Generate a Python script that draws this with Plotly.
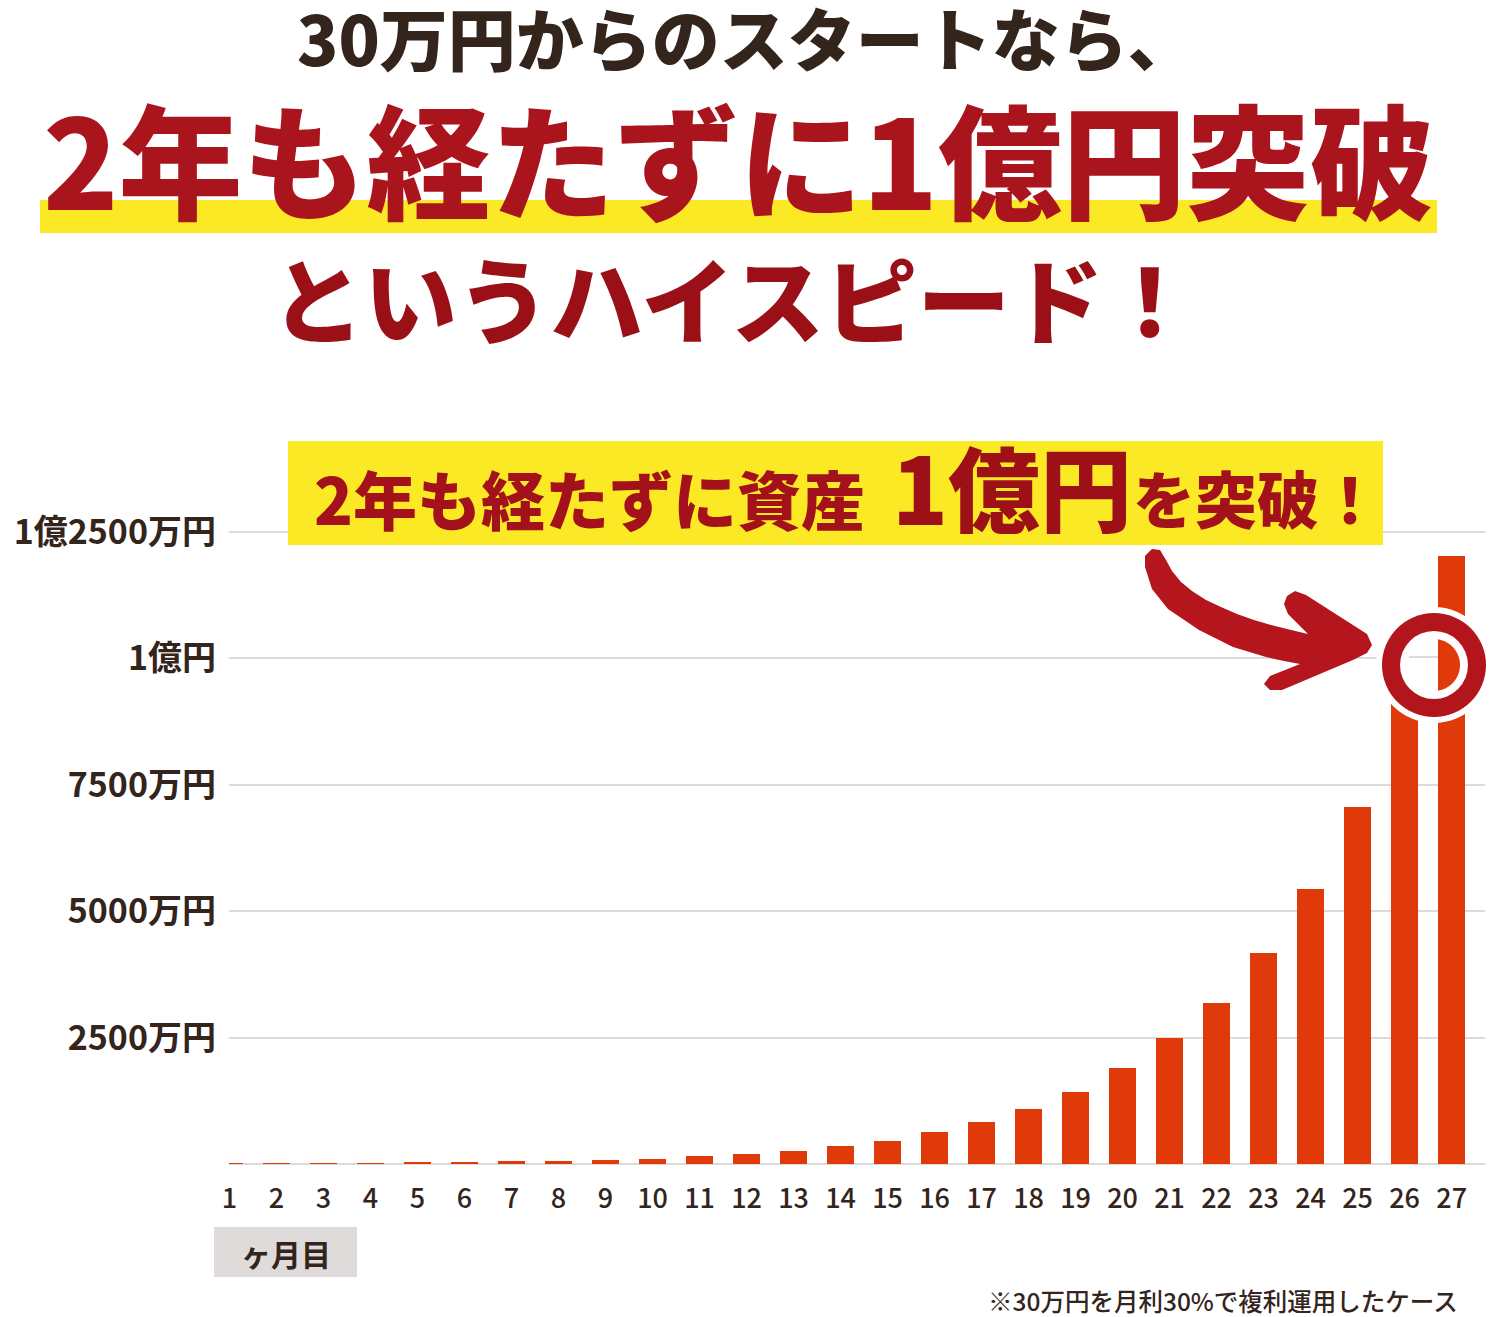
import plotly.graph_objects as go
import numpy as np

# ---- data (values in 万円) ----
months = list(range(1, 28))
month_labels = [str(m) for m in months]
assets_man = [8, 10, 13, 17, 40, 42, 50, 62, 79, 98, 152, 203, 256, 354, 453,
              630, 822, 1096, 1418, 1893, 2500, 3192, 4182, 5443, 7053, 9150, 12025]
y_tick_vals = [2500, 5000, 7500, 10000, 12500]
y_tick_text = ["2500万円", "5000万円", "7500万円", "1億円", "1億2500万円"]

title1 = "30万円からのスタートなら、"
title2 = "2年も経たずに1億円突破"
title3 = "というハイスピード！"
callout_a = "2年も経たずに資産"
callout_b = "1億円"
callout_c = "を突破！"
unit_label = "ヶ月目"
footnote = "※30万円を月利30%で複利運用したケース"

# ---- layout geometry ----
W, H = 1497, 1317
L, R, T, B = 229, 12, 500, 153
PW = W - L - R
PH = H - T - B
FONT = "Noto Sans CJK JP, Noto Sans, sans-serif"
DARK = "#33241c"
RED = "#a3121a"
BAR = "#e0390a"
YEL = "#fbe925"
GRID = "#dedad7"


def fx(x):
    return (x - L) / PW


def fy(y):
    return (H - B - y) / PH


def path_from(points):
    return "M " + " L ".join(f"{fx(x):.5f},{fy(y):.5f}" for x, y in points) + " Z"


fig = go.Figure()
fig.add_trace(go.Bar(
    x=months, y=assets_man, width=0.574,
    marker=dict(color=BAR, line=dict(width=0)),
    hoverinfo="skip",
))

shapes = []
annotations = []

# highlight band under title line 2
shapes.append(dict(type="rect", xref="paper", yref="paper", layer="above",
                   x0=fx(40), x1=fx(1437), y0=fy(233), y1=fy(200),
                   fillcolor=YEL, line=dict(width=0)))
# callout box
shapes.append(dict(type="rect", xref="paper", yref="paper", layer="above",
                   x0=fx(288), x1=fx(1383), y0=fy(545), y1=fy(441),
                   fillcolor=YEL, line=dict(width=0)))
# unit label box
shapes.append(dict(type="rect", xref="paper", yref="paper", layer="above",
                   x0=fx(214), x1=fx(357), y0=fy(1277), y1=fy(1227),
                   fillcolor="#dfdbda", line=dict(width=0)))

# curved arrow
arrow_pts = [(1152, 549), (1160, 550), (1166, 560), (1172, 571), (1181, 582), (1192, 591),
             (1206, 600), (1221, 607), (1237, 614), (1254, 620), (1271, 625), (1287, 629),
             (1308, 634), (1288, 614), (1284, 604), (1287, 596), (1295, 591), (1306, 595),
             (1367, 634), (1372, 645), (1367, 653), (1353, 660), (1282, 690), (1270, 690),
             (1264, 684), (1270, 676), (1300, 664), (1284, 661), (1266, 657), (1233, 647),
             (1199, 630), (1168, 609), (1152, 589), (1145, 567), (1145, 556)]
shapes.append(dict(type="path", xref="paper", yref="paper", layer="above",
                   path=path_from(arrow_pts), fillcolor="#b5161d", line=dict(width=0)))

# ring marker
cx, cy = 1434, 665


def circ(r, color):
    return dict(type="circle", xref="paper", yref="paper", layer="above",
                x0=fx(cx - r), x1=fx(cx + r), y0=fy(cy + r), y1=fy(cy - r),
                fillcolor=color, line=dict(width=0))


shapes.append(circ(58, "white"))
shapes.append(circ(52, "#b3151c"))
shapes.append(circ(34, "white"))
shapes.append(dict(type="line", xref="paper", yref="paper", layer="above",
                   x0=fx(1409), x1=fx(1438), y0=fy(657), y1=fy(657),
                   line=dict(color=GRID, width=2)))
r_in = 26
xl = 1438
th0 = np.arccos((xl - cx) / r_in)
ths = np.linspace(th0, -th0, 40)
d_pts = [(cx + r_in * np.cos(t), cy - r_in * np.sin(t)) for t in ths]
shapes.append(dict(type="path", xref="paper", yref="paper", layer="above",
                   path=path_from(d_pts), fillcolor=BAR, line=dict(width=0)))


def ann(text, x, y, size, color, xanchor="center", weight="bold"):
    annotations.append(dict(text=text, xref="paper", yref="paper",
                            x=fx(x), y=fy(y), xanchor=xanchor, yanchor="middle",
                            showarrow=False,
                            font=dict(family=FONT, size=size, color=color, weight=weight)))


ann(title1, 746, 36, 68, DARK, weight=900)
ann(title2, 738, 156, 124, "#aa141c", weight=900)
ann(title3, 733, 296, 93, "#9b1016", weight=900)

ann(callout_a, 312, 497, 64, RED, xanchor="left", weight=900)
ann(callout_b, 890, 485, 92, "#9d1017", xanchor="left", weight=900)
ann(callout_c, 1131, 497, 62, RED, xanchor="left", weight=900)

ann(unit_label, 286, 1253, 30, DARK)
ann(footnote, 1460, 1300, 24.5, DARK, xanchor="right", weight=500)

fig.update_layout(
    width=W, height=H,
    margin=dict(l=L, r=R, t=T, b=B, pad=0),
    paper_bgcolor="white", plot_bgcolor="white",
    showlegend=False,
    bargap=0,
    shapes=shapes,
    annotations=annotations,
    xaxis=dict(range=[0.99, 27.71], tickmode="array", tickvals=months, ticktext=month_labels,
               showgrid=False, zeroline=False, showline=False, ticks="",
               ticklabelstandoff=16,
               tickfont=dict(family=FONT, size=27, color=DARK, weight=500)),
    yaxis=dict(range=[0, 13133], tickmode="array", tickvals=y_tick_vals, ticktext=y_tick_text,
               showgrid=True, gridcolor=GRID, gridwidth=2,
               zeroline=True, zerolinecolor=GRID, zerolinewidth=2,
               showline=False, ticks="", ticklabelstandoff=12,
               tickfont=dict(family=FONT, size=34, color=DARK, weight="bold")),
)

fig.write_html("out.html")
